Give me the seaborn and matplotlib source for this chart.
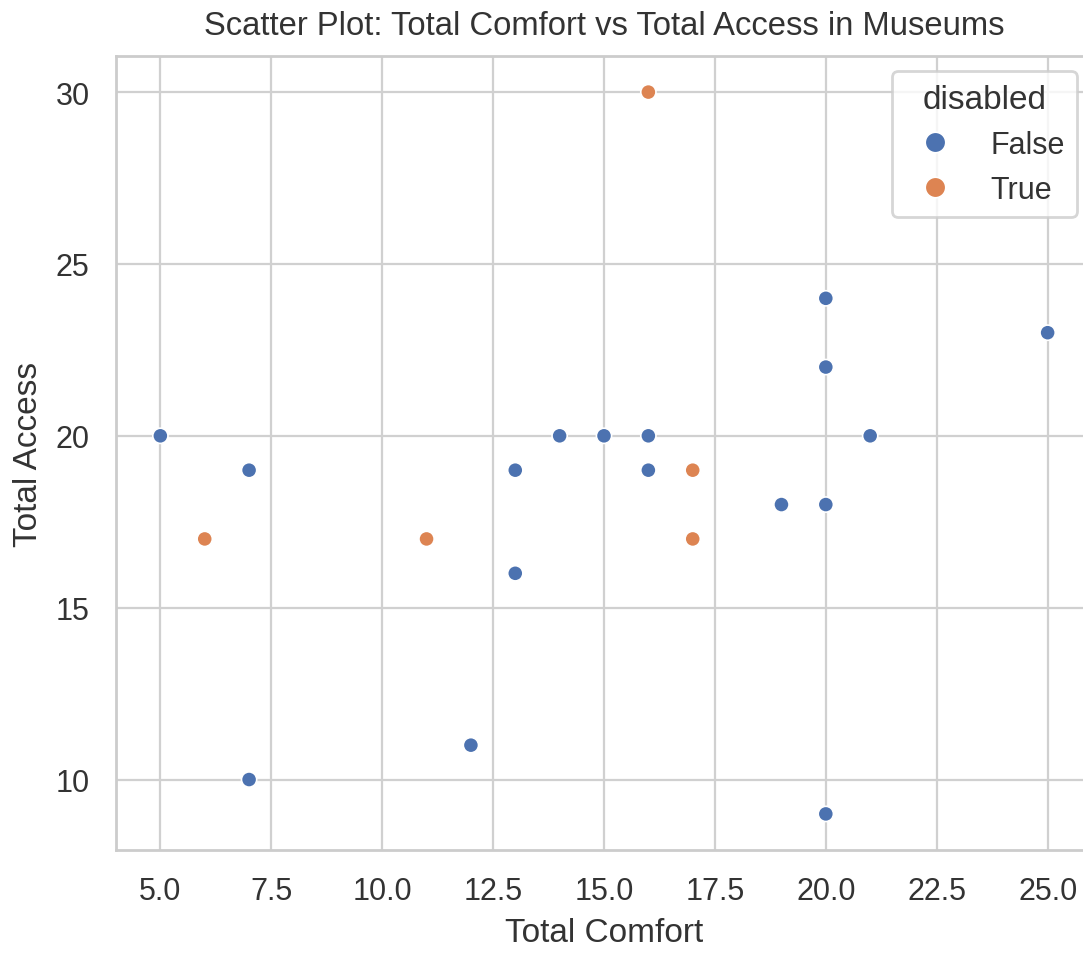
import matplotlib
matplotlib.use("Agg")
import matplotlib.pyplot as plt
import seaborn as sns
import pandas as pd

# Data
comfort_false = [5, 7, 7, 12, 13, 13, 14, 15, 16, 16, 19, 20, 20, 20, 20, 21, 25]
access_false = [20, 19, 10, 11, 19, 16, 20, 20, 20, 19, 18, 24, 22, 18, 9, 20, 23]
comfort_true = [6, 11, 16, 17, 17]
access_true = [17, 17, 30, 19, 17]

df = pd.DataFrame({
    "Total Comfort": comfort_false + comfort_true,
    "Total Access": access_false + access_true,
    "disabled": [False] * len(comfort_false) + [True] * len(comfort_true),
})

sns.set_theme(style="whitegrid", rc={"grid.linewidth": 0.8, "axes.linewidth": 1.0,
                                     "grid.color": "#d0d0d0", "axes.edgecolor": "#cccccc"})
plt.rcParams["font.family"] = ["Liberation Sans", "DejaVu Sans"]

fig = plt.figure(figsize=(1083 / 200, 954 / 200), dpi=200)
ax = fig.add_axes([116 / 1083, (954 - 851) / 954, 976 / 1083, 794 / 954])

sns.scatterplot(data=df, x="Total Comfort", y="Total Access", hue="disabled",
                hue_order=[False, True], ax=ax, s=30, linewidth=0.6)

ax.set_title("Scatter Plot: Total Comfort vs Total Access in Museums", fontsize=11.8, pad=8,
             color="#333333")
ax.set_xlabel("Total Comfort", fontsize=12, color="#333333")
ax.set_ylabel("Total Access", fontsize=12, color="#333333")
ax.tick_params(labelsize=11, labelcolor="#333333")
leg = ax.legend(title="disabled", loc="upper right", fontsize=11, title_fontsize=12,
                markerscale=1.35, labelcolor="#333333")
leg.get_title().set_color("#333333")

fig.savefig("out.png", dpi=200)
